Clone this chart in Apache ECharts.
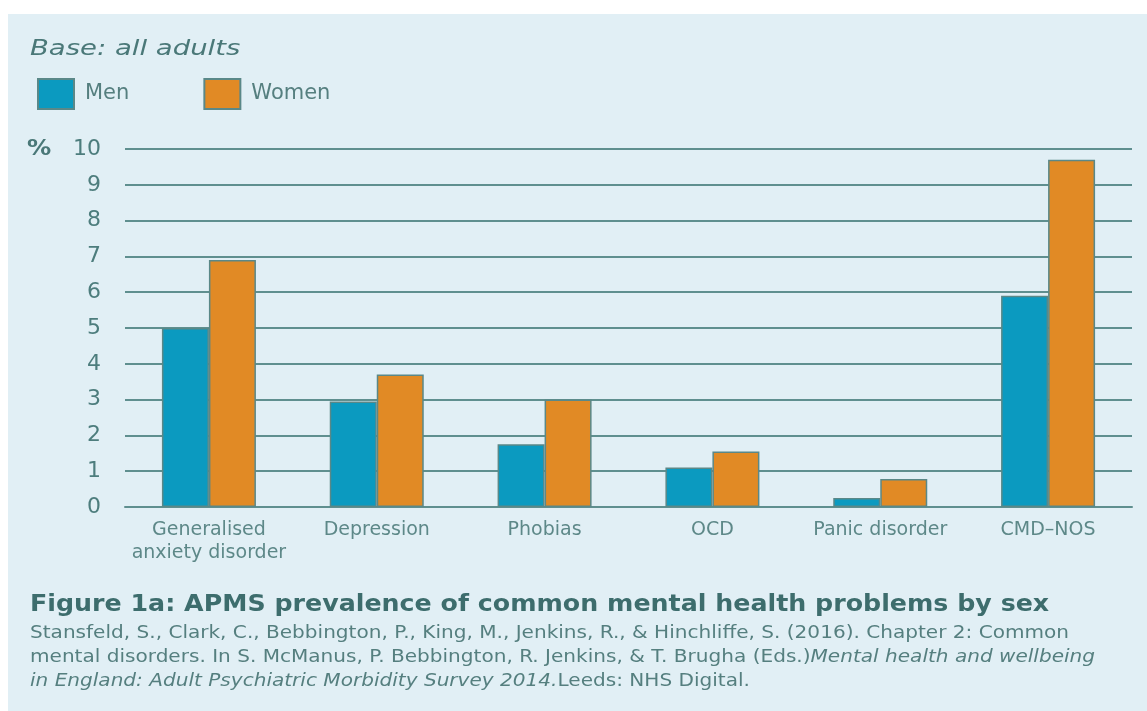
<!DOCTYPE html>
<html>
<head>
<meta charset="utf-8">
<script src="https://cdn.jsdelivr.net/npm/echarts@6/dist/echarts.min.js"></script>
<style>
html,body{margin:0;padding:0;background:#ffffff;}
#chart{width:1147px;height:711px;}
</style>
</head>
<body>
<div id="chart"></div>
<script>
var categories = ['Generalised\nanxiety disorder', 'Depression', 'Phobias', 'OCD', 'Panic disorder', 'CMD\u2013NOS'];
var menValues = [5.0, 2.95, 1.75, 1.1, 0.25, 5.9];
var womenValues = [6.9, 3.7, 3.0, 1.55, 0.78, 9.7];
var yTicks = [0, 1, 2, 3, 4, 5, 6, 7, 8, 9, 10];

var textColor = '#4d7d7d';
var lineColor = '#5f8f8f';
var citeFont = '17px "DejaVu Sans"';
var citeItalic = 'italic 17px "DejaVu Sans"';
var citeColor = '#557f7f';
var chart = echarts.init(document.getElementById('chart'), null, {renderer: 'canvas'});
chart.setOption({
  backgroundColor: '#ffffff',
  animation: false,
  graphic: [
    {type: 'rect', left: 8, top: 14, shape: {width: 1139, height: 697}, style: {fill: '#e1eff5'}, z: -10},
    {type: 'text', x: 30, y: 38, scaleX: 1.25, style: {text: 'Base: all adults', font: 'italic 22px "DejaVu Sans"', fill: '#4a7878'}},
    {type: 'text', x: 27, y: 138, scaleX: 1.1, style: {text: '%', font: 'bold 22px "DejaVu Sans"', fill: '#4a7878'}},
    {type: 'text', x: 30, y: 594, scaleX: 1.1, style: {text: 'Figure 1a: APMS prevalence of common mental health problems by sex', font: 'bold 23px "DejaVu Sans"', fill: '#3d6d6d'}},
    {type: 'text', x: 30, y: 625, scaleX: 1.18, style: {text: 'Stansfeld, S., Clark, C., Bebbington, P., King, M., Jenkins, R., & Hinchliffe, S. (2016). Chapter 2: Common', font: citeFont, fill: citeColor}},
    {type: 'text', x: 30, y: 649, scaleX: 1.18, style: {rich: {n: {font: citeFont, fill: citeColor}, i: {font: citeItalic, fill: citeColor}}, text: '{n|mental disorders. In S. McManus, P. Bebbington, R. Jenkins, & T. Brugha (Eds.)}{i|Mental health and wellbeing}'}},
    {type: 'text', x: 30, y: 673, scaleX: 1.18, style: {rich: {n: {font: citeFont, fill: citeColor}, i: {font: citeItalic, fill: citeColor}}, text: '{i|in England: Adult Psychiatric Morbidity Survey 2014.}{n|Leeds: NHS Digital.}'}}
  ],
  legend: {
    left: 37, top: 78,
    padding: 0,
    itemWidth: 36, itemHeight: 30,
    itemGap: 74,
    icon: 'rect',
    selectedMode: false,
    data: ['Men', 'Women'],
    textStyle: {color: '#557f7f', fontFamily: 'DejaVu Sans', fontSize: 21, padding: [0, 0, 0, 6]}
  },
  grid: {left: 125, right: 15, top: 149, bottom: 204, containLabel: false},
  xAxis: {
    type: 'category',
    data: categories,
    axisLine: {show: true, lineStyle: {color: lineColor, width: 2}},
    axisTick: {show: false},
    axisLabel: {color: '#5d8888', fontFamily: 'DejaVu Sans', fontSize: 19, margin: 12, lineHeight: 23, interval: 0}
  },
  yAxis: {
    type: 'value',
    min: 0, max: 10, interval: 1,
    axisLine: {show: false},
    axisTick: {show: false},
    axisLabel: {color: textColor, fontFamily: 'DejaVu Sans', fontSize: 22, margin: 24,
      formatter: function (v) { return yTicks.indexOf(v) >= 0 ? String(v) : ''; }},
    splitLine: {lineStyle: {color: lineColor, width: 2}}
  },
  series: [
    {name: 'Men', type: 'bar', data: menValues, barWidth: 47, barGap: '0%',
      itemStyle: {color: '#0b9ac0', borderColor: '#5a8888', borderWidth: 1.5}},
    {name: 'Women', type: 'bar', data: womenValues, barWidth: 47,
      itemStyle: {color: '#e18a25', borderColor: '#5a8888', borderWidth: 1.5}}
  ]
});
</script>
</body>
</html>
